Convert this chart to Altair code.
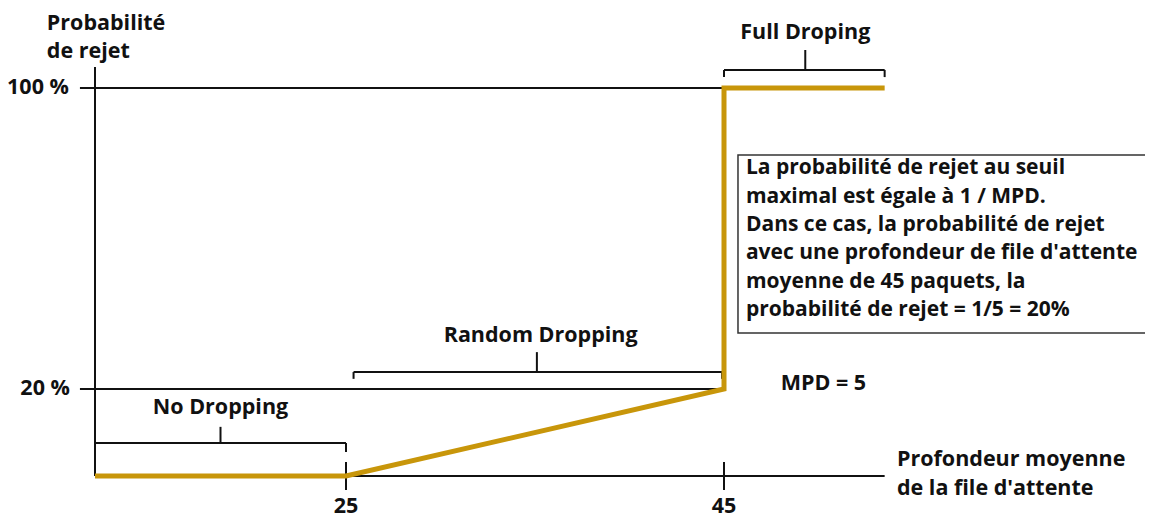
import altair as alt
import pandas as pd

# --- data (schematic WRED drop profile) ---
curve_x = [0, 25, 45, 45, 53.5]
curve_y = [0, 0, 20, 100, 100]

y_ticks = [20, 100]
y_tick_labels = ["20 %", "100 %"]
x_ticks = [25, 45]
x_tick_labels = ["25", "45"]

bracket_names = ["No Dropping", "Random Dropping", "Full Droping"]
bracket_x0 = [0, 25.4, 45]
bracket_x1 = [25, 44.9, 53.5]
bracket_xc = [12.5, 35.1, 49.3]
bracket_ybar = [7.6, 24.5, 104.8]
bracket_yend = [5.5, 22.7, 102.9]
bracket_ytip = [11.3, 29.8, 110.1]
bracket_label_y = [15.6, 34.1, 114.6]
bracket_label_x = [12.5, 35.3, 49.3]

note_lines = [
    "La probabilité de rejet au seuil",
    "maximal est égale à 1 / MPD.",
    "Dans ce cas, la probabilité de rejet",
    "avec une profondeur de file d'attente",
    "moyenne de 45 paquets, la",
    "probabilité de rejet = 1/5 = 20%",
]
note_y = [78.7, 71.0, 63.6, 56.1, 48.4, 41.0]

FONT = "Open Sans"
BLACK = "#111111"
GOLD = "#C8960A"

xs = alt.Scale(domain=[0, 25, 45], range=[87, 338, 716], zero=False, nice=False)
ys = alt.Scale(domain=[0, 20, 100], range=[468, 381, 80], zero=False, nice=False)


def X(f):
    return alt.X(f, type="quantitative", scale=xs, axis=None)


def Y(f):
    return alt.Y(f, type="quantitative", scale=ys, axis=None)


# horizontal lines
hlines = pd.DataFrame({
    "x": [-1.5, -1.5, 0],
    "x2": [45, 45, 53.5],
    "y": [100, 20, 0],
})
h_layer = alt.Chart(hlines).mark_rule(color=BLACK, strokeWidth=2).encode(
    x=X("x"), x2="x2", y=Y("y"))

# vertical lines: y axis and x ticks
vlines = pd.DataFrame({
    "x": [0] + x_ticks,
    "y": [0, -3.2, -3.2],
    "y2": [105.6, 3.2, 3.2],
})
v_layer = alt.Chart(vlines).mark_rule(color=BLACK, strokeWidth=2).encode(
    x=X("x"), y=Y("y"), y2="y2")

# brackets
seg = []
for i in range(len(bracket_names)):
    seg.append({"x": bracket_x0[i], "x2": bracket_x1[i], "y": bracket_ybar[i], "y2": bracket_ybar[i]})
    seg.append({"x": bracket_x0[i], "x2": bracket_x0[i], "y": bracket_ybar[i], "y2": bracket_yend[i]})
    seg.append({"x": bracket_x1[i], "x2": bracket_x1[i], "y": bracket_ybar[i], "y2": bracket_yend[i]})
    seg.append({"x": bracket_xc[i], "x2": bracket_xc[i], "y": bracket_ybar[i], "y2": bracket_ytip[i]})
br_layer = alt.Chart(pd.DataFrame(seg)).mark_rule(color=BLACK, strokeWidth=2).encode(
    x=X("x"), x2="x2", y=Y("y"), y2="y2")

# gold curve
curve = pd.DataFrame({"x": curve_x, "y": curve_y, "o": list(range(len(curve_x)))})
c_layer = alt.Chart(curve).mark_line(color=GOLD, strokeWidth=5, strokeJoin="miter", strokeCap="butt").encode(
    x=X("x"), y=Y("y"), order="o:Q")

# note box
box = pd.DataFrame({"x": [45.74], "x2": [68.1], "y": [34.9], "y2": [82.2]})
box_layer = alt.Chart(box).mark_rect(fill="white", stroke="#333333", strokeWidth=1.5).encode(
    x=X("x"), x2="x2", y=Y("y"), y2="y2")

# texts
left_txt = pd.DataFrame({
    "x": [46.16] * len(note_lines) + [48.0, 54.15, 54.15, -4.8, -4.8],
    "y": note_y + [21.3, 3.7, -3.0, 117.0, 109.6],
    "t": note_lines + ["MPD = 5", "Profondeur moyenne", "de la file d'attente", "Probabilité", "de rejet"],
    "s": [21] * len(note_lines) + [21.5, 21.5, 21.5, 21.5, 21.5],
})
left_layer = alt.Chart(left_txt).mark_text(align="left", baseline="middle", font=FONT,
                                           fontWeight="bold", color=BLACK).encode(
    x=X("x"), y=Y("y"), text="t:N", size=alt.Size("s:Q", scale=None))

center_txt = pd.DataFrame({
    "x": bracket_label_x + x_ticks,
    "y": bracket_label_y + [-7.2, -7.2],
    "t": bracket_names + x_tick_labels,
    "s": [21.5, 21.5, 21.5, 21.5, 21.5],
})
center_layer = alt.Chart(center_txt).mark_text(align="center", baseline="middle", font=FONT,
                                               fontWeight="bold", color=BLACK).encode(
    x=X("x"), y=Y("y"), text="t:N", size=alt.Size("s:Q", scale=None))

right_txt = pd.DataFrame({
    "x": [-2.5, -2.6],
    "y": y_ticks,
    "t": y_tick_labels,
})
right_layer = alt.Chart(right_txt).mark_text(align="right", baseline="middle", font=FONT,
                                             fontWeight="bold", color=BLACK, fontSize=21.5).encode(
    x=X("x"), y=Y("y"), text="t:N")

chart = alt.layer(
    h_layer, v_layer, br_layer, box_layer, c_layer, left_layer, center_layer, right_layer
).properties(
    width=1137, height=511, autosize=alt.AutoSizeParams(type="none"), padding=0,
    background="white",
).configure_view(stroke=None)

chart.save("out.html", embed_options={"renderer": "svg", "actions": False})
